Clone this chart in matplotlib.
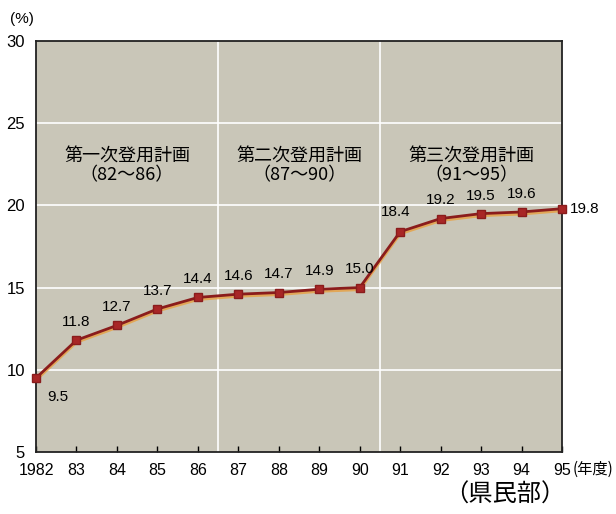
import matplotlib
matplotlib.use("Agg")
import matplotlib.pyplot as plt

plt.rcParams['font.family'] = ['Noto Sans CJK JP', 'DejaVu Sans']

years = [1982, 1983, 1984, 1985, 1986, 1987, 1988, 1989, 1990, 1991, 1992, 1993, 1994, 1995]
values = [9.5, 11.8, 12.7, 13.7, 14.4, 14.6, 14.7, 14.9, 15.0, 18.4, 19.2, 19.5, 19.6, 19.8]
xtick_labels = ['1982', '83', '84', '85', '86', '87', '88', '89', '90', '91', '92', '93', '94', '95']
yticks = [5, 10, 15, 20, 25, 30]
plans = ['第一次登用計画\n（82〜86）', '第二次登用計画\n（87〜90）', '第三次登用計画\n（91〜95）']
plan_ranges = [(1982, 1986.5), (1986.5, 1990.5), (1990.5, 1995)]

NUM = ['Liberation Sans', 'DejaVu Sans']

fig = plt.figure(figsize=(6.16, 5.14), dpi=100)
ax = fig.add_axes([36/616, 1 - 452/514, (562-36)/616, (452-41)/514])
ax.set_facecolor('#c9c6b8')
ax.set_xlim(1982, 1995)
ax.set_ylim(5, 30)

for y in [10, 15, 20, 25]:
    ax.axhline(y, color='white', lw=1.2, zorder=1)
for (a, b) in plan_ranges[:-1]:
    ax.axvline(b, color='white', lw=1.2, zorder=1)

ax.plot(years, [v - 0.12 for v in values], color='#e8a040', lw=2.2, zorder=2, alpha=0.8)
ax.plot(years, values, color='#8a1c1c', lw=2.0, marker='s', ms=5.8,
        markerfacecolor='#a82626', markeredgecolor='#8a1c1c', zorder=3, clip_on=False)

for i, (x, v) in enumerate(zip(years, values)):
    if i == 0:
        ax.annotate(f'{v:.1f}', (x, v), xytext=(8, -14), textcoords='offset points',
                    ha='left', va='center', fontsize=11, family=NUM)
    elif i == len(values) - 1:
        ax.annotate(f'{v:.1f}', (x, v), xytext=(6, 0), textcoords='offset points',
                    ha='left', va='center', fontsize=11, family=NUM)
    elif i == 9:
        ax.annotate(f'{v:.1f}', (x, v), xytext=(-3, 9), textcoords='offset points',
                    ha='center', va='bottom', fontsize=11, family=NUM)
    else:
        ax.annotate(f'{v:.1f}', (x, v), xytext=(0, 8), textcoords='offset points',
                    ha='center', va='bottom', fontsize=11, family=NUM)

for (a, b), txt in zip(plan_ranges, plans):
    ax.text((a + b) / 2, 22.4, txt, ha='center', va='center', fontsize=13,
            linespacing=1.0)

ax.set_xticks(years)
ax.set_xticklabels(xtick_labels, fontsize=11.5, family=NUM)
ax.set_yticks(yticks)
ax.set_yticklabels([str(t) for t in yticks], fontsize=12, family=NUM)
ax.tick_params(axis='x', direction='in', length=4, width=1, pad=8)
ax.tick_params(axis='y', length=0, pad=8)
for s in ax.spines.values():
    s.set_color('#222222')
    s.set_linewidth(1.3)

fig.text(573/616, 1 - 469/514, '(年度)', ha='left', va='center', fontsize=11)
fig.text(22/616, 1 - 19/514, '(%)', ha='center', va='center', fontsize=11,
         family=NUM)
fig.text(505/616, 1 - 495/514, '（県民部）', ha='center', va='center', fontsize=17.5)

fig.savefig('out.png', dpi=100, facecolor='white')
